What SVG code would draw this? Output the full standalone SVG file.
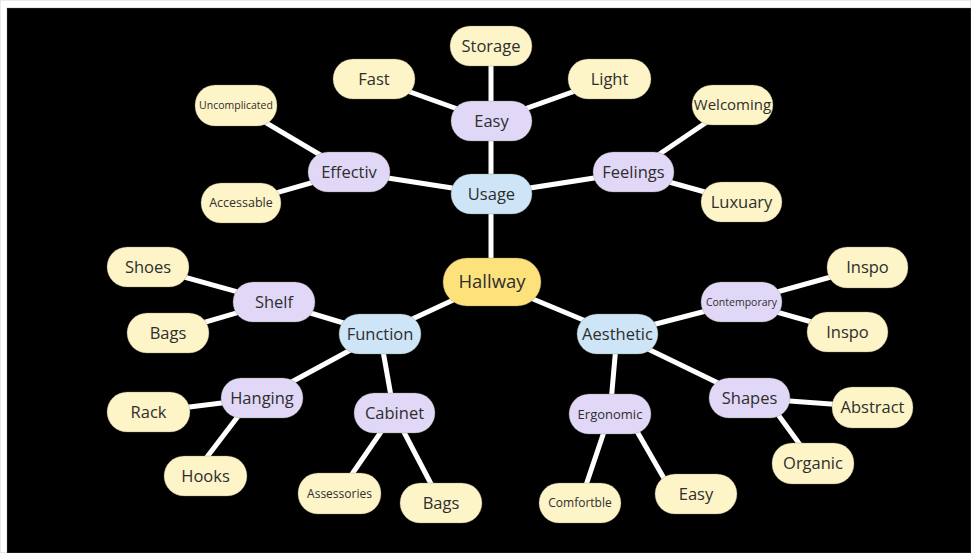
<svg xmlns="http://www.w3.org/2000/svg" width="971" height="553" viewBox="0 0 971 553">
<style>
.bg{fill:#000}
.e line{stroke:#fff;stroke-width:5;stroke-linecap:butt}
rect{stroke:#8a8470;stroke-opacity:0.35;stroke-width:1}
.leaf{fill:#fdf4c7}
.mid{fill:#e1d8f7}
.main{fill:#cde5f7}
.root{fill:#fde27c}
text{font-family:"Open Sans","Noto Sans","Liberation Sans",sans-serif;fill:#2e2e2e;text-anchor:middle;font-size:16.5px}
.s{font-size:12px}
.xs{font-size:10.5px}
</style>
<rect x="0" y="0" width="971" height="553" fill="#fff" stroke="none"/>
<rect class="bg" x="7" y="8" width="964" height="545" stroke="none"/>
<g class="e" id="connectors">
<line x1="491" y1="194" x2="491" y2="282"/>
<line x1="492" y1="282" x2="380" y2="334"/>
<line x1="492" y1="282" x2="617" y2="334"/>
<line x1="491" y1="194" x2="491" y2="46"/>
<line x1="491" y1="121" x2="374" y2="79"/>
<line x1="491" y1="121" x2="609" y2="79"/>
<line x1="491" y1="194" x2="349" y2="172"/>
<line x1="491" y1="194" x2="633" y2="172"/>
<line x1="349" y1="172" x2="236" y2="105"/>
<line x1="349" y1="172" x2="241" y2="203"/>
<line x1="633" y1="172" x2="732" y2="105"/>
<line x1="633" y1="172" x2="741" y2="202"/>
<line x1="380" y1="334" x2="274" y2="302"/>
<line x1="380" y1="334" x2="262" y2="398"/>
<line x1="380" y1="334" x2="394" y2="413"/>
<line x1="274" y1="302" x2="148" y2="267"/>
<line x1="274" y1="302" x2="168" y2="333"/>
<line x1="262" y1="398" x2="149" y2="412"/>
<line x1="252" y1="398" x2="194" y2="474"/>
<line x1="394" y1="413" x2="339" y2="493"/>
<line x1="394" y1="413" x2="441" y2="503"/>
<line x1="617" y1="334" x2="741" y2="302"/>
<line x1="617" y1="334" x2="749" y2="398"/>
<line x1="617" y1="334" x2="610" y2="414"/>
<line x1="741" y1="302" x2="867" y2="267"/>
<line x1="741" y1="302" x2="847" y2="332"/>
<line x1="749" y1="398" x2="872" y2="407"/>
<line x1="766" y1="398" x2="814" y2="464"/>
<line x1="610" y1="414" x2="580" y2="503"/>
<line x1="627" y1="414" x2="673" y2="494"/>
</g>
<g id="hallway"><rect class="root" x="443" y="258" width="98" height="48" rx="24"/><text x="492" y="282" dy="0.35em" style="font-size:18.5px">Hallway</text></g>
<g id="usage"><rect class="main" x="451" y="174" width="81" height="40" rx="20"/><text x="491.5" y="194" dy="0.35em">Usage</text></g>
<g id="function"><rect class="main" x="339" y="314" width="82" height="40" rx="20"/><text x="380" y="334" dy="0.35em">Function</text></g>
<g id="aesthetic"><rect class="main" x="577" y="314" width="81" height="40" rx="20"/><text x="617.5" y="334" dy="0.35em">Aesthetic</text></g>
<g id="easy"><rect class="mid" x="451" y="101" width="81" height="40" rx="20"/><text x="491.5" y="121" dy="0.35em">Easy</text></g>
<g id="effectiv"><rect class="mid" x="308" y="152" width="82" height="40" rx="20"/><text x="349" y="172" dy="0.35em">Effectiv</text></g>
<g id="feelings"><rect class="mid" x="593" y="152" width="81" height="40" rx="20"/><text x="633.5" y="172" dy="0.35em">Feelings</text></g>
<g id="shelf"><rect class="mid" x="233" y="282" width="82" height="40" rx="20"/><text x="274" y="302" dy="0.35em">Shelf</text></g>
<g id="hanging"><rect class="mid" x="221" y="378" width="82" height="40" rx="20"/><text x="262" y="398" dy="0.35em">Hanging</text></g>
<g id="cabinet"><rect class="mid" x="354" y="393" width="81" height="40" rx="20"/><text x="394.5" y="413" dy="0.35em">Cabinet</text></g>
<g id="contemporary"><rect class="mid" x="701" y="282" width="81" height="40" rx="20"/><text class="xs" x="741.5" y="302" dy="0.35em">Contemporary</text></g>
<g id="shapes"><rect class="mid" x="709" y="378" width="81" height="40" rx="20"/><text x="749.5" y="398" dy="0.35em">Shapes</text></g>
<g id="ergonomic"><rect class="mid" x="569" y="394" width="82" height="40" rx="20"/><text x="610" y="414" dy="0.35em" style="font-size:13px">Ergonomic</text></g>
<g id="storage"><rect class="leaf" x="450" y="26" width="82" height="40" rx="20"/><text x="491" y="46" dy="0.35em">Storage</text></g>
<g id="fast"><rect class="leaf" x="333" y="59" width="82" height="40" rx="20"/><text x="374" y="79" dy="0.35em">Fast</text></g>
<g id="light"><rect class="leaf" x="568" y="59" width="83" height="40" rx="20"/><text x="609.5" y="79" dy="0.35em">Light</text></g>
<g id="uncomplicated"><rect class="leaf" x="195" y="85" width="82" height="41" rx="20"/><text class="xs" x="236" y="105.5" dy="0.35em">Uncomplicated</text></g>
<g id="accessable"><rect class="leaf" x="201" y="183" width="80" height="40" rx="20"/><text x="241" y="203" dy="0.35em" style="font-size:12.5px">Accessable</text></g>
<g id="welcoming"><rect class="leaf" x="692" y="85" width="81" height="40" rx="20"/><text x="732.5" y="105" dy="0.35em" style="font-size:15px">Welcoming</text></g>
<g id="luxuary"><rect class="leaf" x="701" y="182" width="81" height="40" rx="20"/><text x="741.5" y="202" dy="0.35em">Luxuary</text></g>
<g id="shoes"><rect class="leaf" x="107" y="247" width="82" height="40" rx="20"/><text x="148" y="267" dy="0.35em">Shoes</text></g>
<g id="bags1"><rect class="leaf" x="127" y="313" width="82" height="40" rx="20"/><text x="168" y="333" dy="0.35em">Bags</text></g>
<g id="rack"><rect class="leaf" x="107" y="392" width="83" height="40" rx="20"/><text x="148.5" y="412" dy="0.35em">Rack</text></g>
<g id="hooks"><rect class="leaf" x="164" y="456" width="83" height="40" rx="20"/><text x="205.5" y="476" dy="0.35em">Hooks</text></g>
<g id="assessories"><rect class="leaf" x="298" y="473" width="83" height="41" rx="20"/><text class="s" x="339.5" y="493.5" dy="0.35em">Assessories</text></g>
<g id="bags2"><rect class="leaf" x="400" y="483" width="82" height="40" rx="20"/><text x="441" y="503" dy="0.35em">Bags</text></g>
<g id="inspo1"><rect class="leaf" x="827" y="247" width="81" height="41" rx="20"/><text x="867.5" y="267.5" dy="0.35em">Inspo</text></g>
<g id="inspo2"><rect class="leaf" x="807" y="312" width="81" height="40" rx="20"/><text x="847.5" y="332" dy="0.35em">Inspo</text></g>
<g id="abstract"><rect class="leaf" x="832" y="387" width="81" height="41" rx="20"/><text x="872.5" y="407.5" dy="0.35em">Abstract</text></g>
<g id="organic"><rect class="leaf" x="772" y="443" width="82" height="41" rx="20"/><text x="813" y="463.5" dy="0.35em">Organic</text></g>
<g id="comfortble"><rect class="leaf" x="539" y="483" width="82" height="40" rx="20"/><text class="s" x="580" y="503" dy="0.35em">Comfortble</text></g>
<g id="easy2"><rect class="leaf" x="655" y="474" width="82" height="40" rx="20"/><text x="696" y="494" dy="0.35em">Easy</text></g>
</svg>
